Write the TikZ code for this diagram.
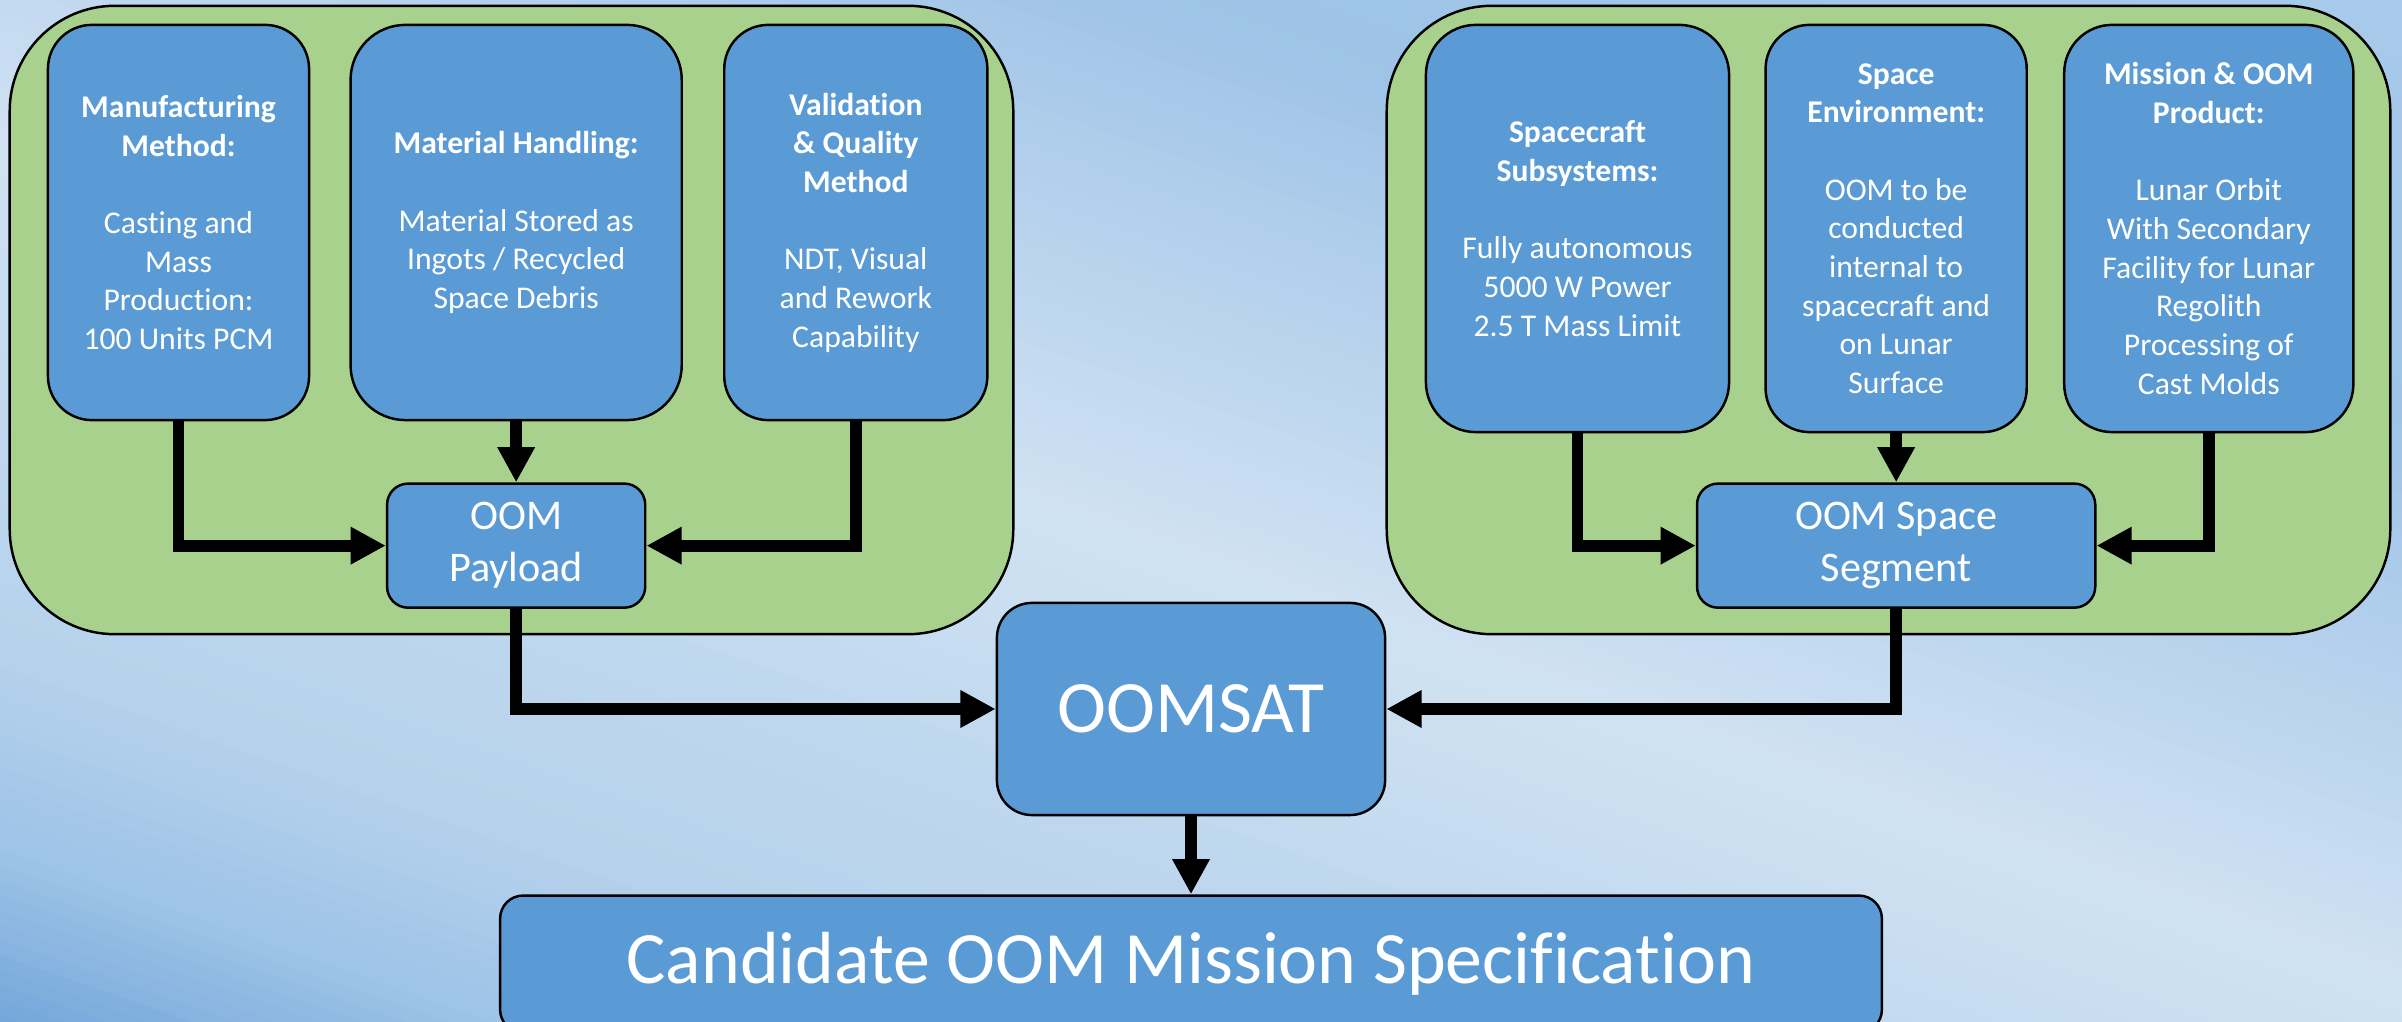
\documentclass[tikz,border=0pt]{standalone}
\usepackage{fontspec}
\setmainfont{Carlito}[Ligatures=NoCommon]
\usetikzlibrary{arrows.meta,positioning}
\definecolor{boxblue}{HTML}{5B9BD5}
\definecolor{panelgreen}{HTML}{A9D18E}
% background bands, top right to bottom left
\definecolor{bgA}{HTML}{A8CAEB}
\definecolor{bgB}{HTML}{9DC3E6}
\definecolor{bgC}{HTML}{B2CFEC}
\definecolor{bgD}{HTML}{C4DAF0}
\definecolor{bgE}{HTML}{D0E2F2}
\definecolor{bgF}{HTML}{BED7EE}
\definecolor{bgG}{HTML}{B6D2EC}
\definecolor{bgH}{HTML}{9DC3E7}
\definecolor{bgI}{HTML}{72A5D9}

\begin{document}
\begin{tikzpicture}[x=0.01cm,y=-0.01cm,
  panel/.style={draw,line width=0.7pt,fill=panelgreen,rounded corners=1.05cm,
                minimum width=10.03cm,minimum height=6.28cm},
  block/.style={draw,line width=0.7pt,fill=boxblue,text=white,align=center,
                inner sep=0pt},
  tall/.style={block,font=\fontsize{9}{11}\selectfont,rounded corners=0.44cm},
  hub/.style={block,font=\fontsize{12}{14.8}\selectfont,minimum height=1.24cm,
              rounded corners=0.21cm},
  flow/.style={-{Triangle[length=10pt,width=10pt]},line width=3.4pt,line join=miter}]
\useasboundingbox (0,0) rectangle (2402,1022);
\clip (0,0) rectangle (2402,1022);

% sky background
\foreach \ua/\ub/\cfrom/\cto in {-850/-420/bgA/bgB,-420/-200/bgB/bgC,-200/0/bgC/bgD,
    0/150/bgD/bgE,150/450/bgE/bgF,450/650/bgF/bgG,650/850/bgG/bgH,850/1030/bgH/bgI}{
  \foreach \i in {0,...,11}{
    \pgfmathsetmacro\ulo{\ua+(\ub-\ua)*\i/12}
    \pgfmathsetmacro\uhi{\ua+(\ub-\ua)*(\i+1)/12+1}
    \pgfmathtruncatemacro\mixpct{100*(\i+0.5)/12}
    \colorlet{band}{\cto!\mixpct!\cfrom}
    \fill[band] (0,\ulo) -- (2402,\ulo+840.7) -- (2402,\uhi+840.7) -- (0,\uhi) -- cycle;
  }
}

\node[panel] (leftgroup) at (511.5,320) {};
\node[panel] (rightgroup) at (1888.5,320) {};

% payload side
\node[tall,minimum width=2.61cm,minimum height=3.95cm] (man) at (178.5,222.5)
  {\textbf{Manufacturing}\\\textbf{Method:}\\[11pt]Casting and\\Mass\\Production:\\100 Units PCM};
\node[tall,minimum width=3.31cm,minimum height=3.95cm,rounded corners=0.55cm,
  right=0.39cm of man] (mat)
  {\textbf{Material Handling:}\\[11pt]Material Stored as\\Ingots / Recycled\\Space Debris};
\node[tall,minimum width=2.63cm,minimum height=3.95cm,right=0.4cm of mat] (val)
  {\textbf{Validation}\\\textbf{\& Quality}\\\textbf{Method}\\[11pt]NDT, Visual\\and Rework\\Capability};
\node[hub,minimum width=2.58cm,below=0.61cm of mat] (pay) {OOM\\Payload};

% space segment side
\node[tall,minimum width=3.03cm,minimum height=4.07cm,rounded corners=0.5cm] (sub) at (1577.5,228.5)
  {\textbf{Spacecraft}\\\textbf{Subsystems:}\\[11pt]Fully autonomous\\5000 W Power\\2.5 T Mass Limit};
\node[tall,minimum width=2.61cm,minimum height=4.07cm,right=0.34cm of sub] (env)
  {\textbf{Space}\\\textbf{Environment:}\\[11pt]OOM to be\\conducted\\internal to\\spacecraft and\\on Lunar\\Surface};
\node[tall,minimum width=2.89cm,minimum height=4.07cm,rounded corners=0.48cm,right=0.35cm of env] (mis)
  {\textbf{Mission \& OOM}\\\textbf{Product:}\\[11pt]Lunar Orbit\\With Secondary\\Facility for Lunar\\Regolith\\Processing of\\Cast Molds};
\node[hub,minimum width=3.98cm,below=0.49cm of env] (seg) {OOM Space\\Segment};

% mission
\node[block,font=\fontsize{21}{25}\selectfont,minimum width=3.88cm,minimum height=2.12cm,
  rounded corners=0.35cm] (sat) at (1191,709) {OOMSAT};
\node[block,font=\fontsize{21}{25}\selectfont,minimum width=13.81cm,minimum height=1.37cm,
  rounded corners=0.23cm,below=0.78cm of sat] (cand) {Candidate OOM Mission Specification};

\draw[flow] (man.south) |- (pay.west);
\draw[flow] (mat) -- (pay);
\draw[flow] (val.south) |- (pay.east);
\draw[flow] (sub.south) |- (seg.west);
\draw[flow] (env) -- (seg);
\draw[flow] (mis.south) |- (seg.east);
\draw[flow] (pay.south) |- (sat.west);
\draw[flow] (seg.south) |- (sat.east);
\draw[flow] (sat) -- (cand);
\end{tikzpicture}
\end{document}
